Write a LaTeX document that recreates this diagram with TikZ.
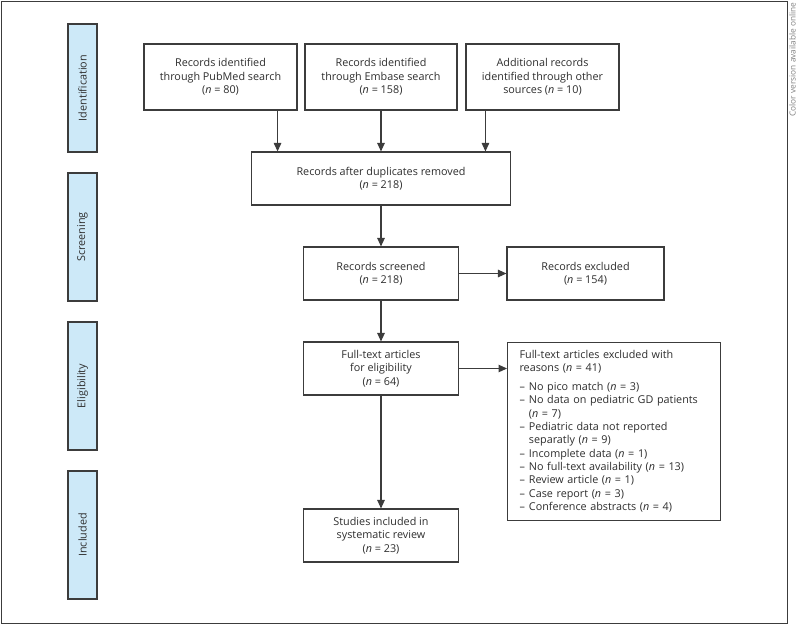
\documentclass[tikz,border=0pt]{standalone}
\usepackage{fontspec}
\setmainfont{Open Sans}
\usetikzlibrary{arrows.meta, positioning}
\definecolor{linegray}{HTML}{3C3C3C}
\definecolor{textgray}{HTML}{2E2E2E}
\definecolor{phaseblue}{HTML}{CDE9F8}
\tikzset{
  box/.style={draw=linegray, line width=1.1pt, fill=white, align=center, inner sep=0pt,
    text=textgray, font=\fontsize{10.8}{13.3}\selectfont},
  phase/.style={box, fill=phaseblue, rotate=90, minimum width=128pt, minimum height=29pt},
  arr/.style={draw=linegray, line width=1.1pt, -{Triangle[length=8.5pt,width=7.5pt]}}
}
\begin{document}
\begin{tikzpicture}[x=1pt, y=-1pt]
		\useasboundingbox (0,0) rectangle (798,624);
		\draw[linegray, line width=1pt] (1,1) rectangle (787,623);
		\node[rotate=90, anchor=base east, inner sep=0pt, text=gray, font=\fontsize{8.3}{9}\selectfont] (note) at (795.5,2.5) {Color version available online};

		% phases
		\node[phase] (ident) at (82.5,88) {Identification};
		\node[phase] (screen) at (82.5,237) {Screening};
		\node[phase] (elig) at (82.5,386) {Eligibility};
		\node[phase] (incl) at (82.5,535) {Included};

		% boxes
		\node[box, minimum width=153pt, minimum height=66pt] (pubmed) at (220.5,77)
		{Records identified\\through PubMed search\\(\textit{n} = 80)};
		\node[box, minimum width=152pt, minimum height=66pt] (embase) at (381,77)
		{Records identified\\through Embase search\\(\textit{n} = 158)};
		\node[box, minimum width=153pt, minimum height=66pt] (other) at (542.5,77)
		{Additional records\\identified through other\\sources (\textit{n} = 10)};
		\node[box, minimum width=259pt, minimum height=53pt] (dup) at (381,178.5)
		{Records after duplicates removed\\(\textit{n} = 218)};
		\node[box, minimum width=155pt, minimum height=53pt] (screened) at (381,273.5)
		{Records screened\\(\textit{n} = 218)};
		\node[box, minimum width=157pt, minimum height=53pt] (excluded) at (585.5,273.5)
		{Records excluded\\(\textit{n} = 154)};
		\node[box, minimum width=155pt, minimum height=53pt] (fulltext) at (381,368.5)
		{Full-text articles\\for eligibility\\(\textit{n} = 64)};
		\node[box, minimum width=155pt, minimum height=53pt] (studies) at (381,535.5)
		{Studies included in\\systematic review\\(\textit{n} = 23)};
		\node[box, anchor=north west, align=left, text width=189pt, inner xsep=12pt,
		  minimum height=178pt] (reasons) at (507,342)
		{\begin{tabular}{@{}l@{\hspace{4pt}}l@{}}
		\multicolumn{2}{@{}l@{}}{Full-text articles excluded with}\\
		\multicolumn{2}{@{}l@{}}{reasons (\textit{n} = 41)}\\[6pt]
		-- & No pico match (\textit{n} = 3)\\
		-- & No data on pediatric GD patients\\
		   & (\textit{n} = 7)\\
		-- & Pediatric data not reported\\
		   & separatly (\textit{n} = 9)\\
		-- & Incomplete data (\textit{n} = 1)\\
		-- & No full-text availability (\textit{n} = 13)\\
		-- & Review article (\textit{n} = 1)\\
		-- & Case report (\textit{n} = 3)\\
		-- & Conference abstracts (\textit{n} = 4)\\
		\end{tabular}};

		% connectors
		\coordinate (pubout) at ([xshift=-20pt]pubmed.south east);
		\coordinate (othout) at ([xshift=20pt]other.south west);
		\draw[arr] (pubout) -- (pubout |- dup.north);
		\draw[arr] (embase.south) -- (embase.south |- dup.north);
		\draw[arr] (othout) -- (othout |- dup.north);
		\draw[arr] (dup.south) -- (screened.north);
		\draw[arr] (screened.east) -- (excluded.west);
		\draw[arr] (screened.south) -- (fulltext.north);
		\draw[arr] (fulltext.east) -- (fulltext.east -| reasons.west);
		\draw[arr] (fulltext.south) -- (studies.north);
	\end{tikzpicture}
\end{document}
